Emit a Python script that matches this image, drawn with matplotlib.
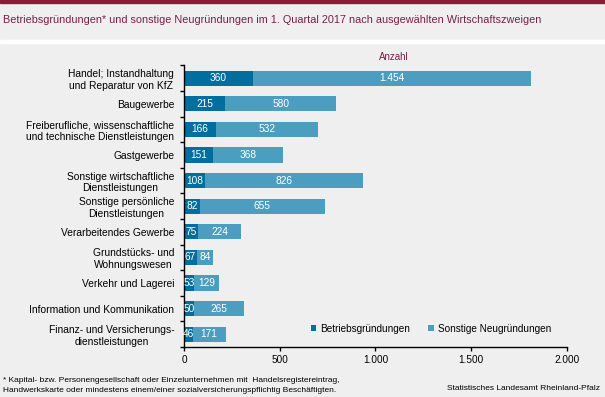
import matplotlib
matplotlib.use("Agg")
import matplotlib.pyplot as plt
from matplotlib.patches import Rectangle
import numpy as np

categories = [
    "Handel; Instandhaltung\nund Reparatur von KfZ",
    "Baugewerbe",
    "Freiberufliche, wissenschaftliche\nund technische Dienstleistungen",
    "Gastgewerbe",
    "Sonstige wirtschaftliche\nDienstleistungen",
    "Sonstige persönliche\nDienstleistungen",
    "Verarbeitendes Gewerbe",
    "Grundstücks- und\nWohnungswesen",
    "Verkehr und Lagerei",
    "Information und Kommunikation",
    "Finanz- und Versicherungs-\ndienstleistungen",
]
betrieb = [360, 215, 166, 151, 108, 82, 75, 67, 53, 50, 46]
sonstige = [1454, 580, 532, 368, 826, 655, 224, 84, 129, 265, 171]
xticks = [0, 500, 1000, 1500, 2000]
xticklabels = ["0", "500", "1.000", "1.500", "2.000"]
series_names = ["Betriebsgründungen", "Sonstige Neugründungen"]

plt.rcParams['font.family'] = ['Liberation Sans', 'DejaVu Sans']

W, H = 605, 397
bg = '#EEEFEE'
dark = '#006FA0'
light = '#4C9EC1'
red = '#8C1B33'
titlecol = '#7A1F45'

fig = plt.figure(figsize=(W/100, H/100), dpi=100, facecolor=bg)

# decorations
fig.patches.append(Rectangle((0, 1-3/H), 1, 3/H, transform=fig.transFigure, color=red, zorder=0))
fig.patches.append(Rectangle((0, 1-43/H), 1, 3/H, transform=fig.transFigure, color='white', zorder=0))
fig.text(3/W, 1-20/H, "Betriebsgründungen* und sonstige Neugründungen im 1. Quartal 2017 nach ausgewählten Wirtschaftszweigen",
         fontsize=7.8, color=titlecol, ha='left', va='center')
fig.text(394/W, 1-57/H, "Anzahl", fontsize=7, color=titlecol, ha='center', va='center')

ax = fig.add_axes([184/W, 1-347/H, 383/W, 281.6/H])
ax.set_facecolor(bg)

n = len(categories)
y = np.arange(n)
h = 0.6
b1 = ax.barh(y, betrieb, height=h, color=dark, label=series_names[0])
b2 = ax.barh(y, sonstige, left=betrieb, height=h, color=light, label=series_names[1])

def fmt(v):
    return f"{v:,}".replace(",", ".")

for i in range(n):
    ax.text(betrieb[i]/2, y[i], fmt(betrieb[i]), ha='center', va='center', color='white', fontsize=7.3)
    ax.text(betrieb[i] + sonstige[i]/2, y[i], fmt(sonstige[i]), ha='center', va='center', color='white', fontsize=7.3)

ax.set_xlim(0, 2000)
ax.set_ylim(n-0.5, -0.5)
ax.set_xticks(xticks)
ax.set_xticklabels(xticklabels, fontsize=7.2)
ax.set_yticks(y)
ax.set_yticklabels(categories, fontsize=7.4, multialignment='center')
ax.set_yticks(np.arange(n+1)-0.5, minor=True)
ax.tick_params(axis='y', which='major', length=0, pad=7)
ax.tick_params(axis='y', which='minor', length=3, width=1, color='black')
ax.tick_params(axis='x', length=3, width=1, pad=2.5)
for s in ['top', 'right']:
    ax.spines[s].set_visible(False)
for s in ['left', 'bottom']:
    ax.spines[s].set_linewidth(1)
    ax.spines[s].set_color('black')

fig.legend(handles=[b1, b2], labels=series_names, ncol=2, frameon=False, fontsize=7.2,
           loc='center', bbox_to_anchor=(431/W, 1-329/H), handlelength=0.55, handleheight=0.55,
           handletextpad=0.4, columnspacing=1.8, borderpad=0)

fig.text(3/W, 1-380/H, "* Kapital- bzw. Personengesellschaft oder Einzelunternehmen mit  Handelsregistereintrag,",
         fontsize=6, ha='left', va='center')
fig.text(3/W, 1-390/H, "Handwerkskarte oder mindestens einem/einer sozialversicherungspflichtig Beschäftigten.",
         fontsize=6, ha='left', va='center')
fig.text(600/W, 1-388/H, "Statistisches Landesamt Rheinland-Pfalz", fontsize=6, ha='right', va='center')

fig.savefig("out.png", dpi=100, facecolor=bg)
